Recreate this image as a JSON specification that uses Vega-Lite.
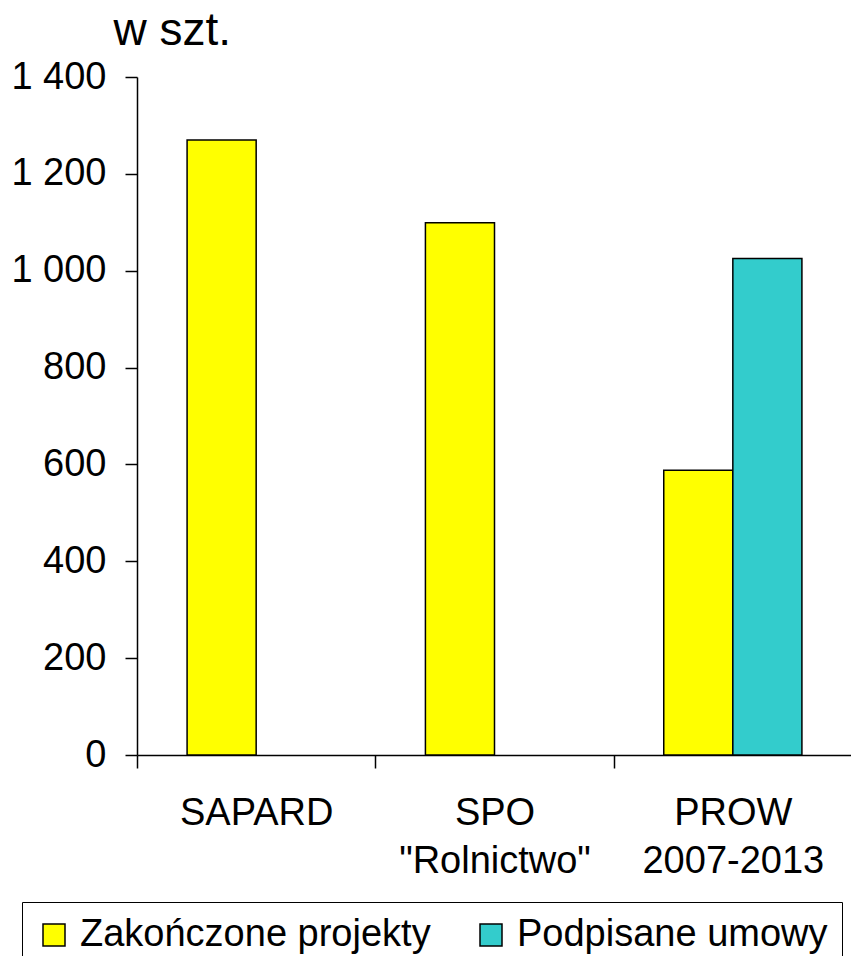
{
  "$schema": "https://vega.github.io/schema/vega-lite/v6.json",
  "autosize": {"type": "none"},
  "padding": {"left": 137, "top": 77, "right": 0, "bottom": 201},
  "width": 715,
  "height": 678,
  "background": "white",
  "config": {
    "view": {"stroke": null},
    "font": "Liberation Sans",
    "axis": {"labelFont": "Liberation Sans", "titleFont": "Liberation Sans", "labelColor": "black", "titleColor": "black", "domainColor": "black", "tickColor": "black", "domainWidth": 1.5, "tickWidth": 1.5, "grid": false},
    "legend": {"labelFont": "Liberation Sans"}
  },
  "data": {
    "values": [
      {"program": "SAPARD", "seria": "Zakończone projekty", "wartosc": 1270},
      {"program": "SPO \"Rolnictwo\"", "seria": "Zakończone projekty", "wartosc": 1099},
      {"program": "PROW 2007-2013", "seria": "Zakończone projekty", "wartosc": 588},
      {"program": "PROW 2007-2013", "seria": "Podpisane umowy", "wartosc": 1025}
    ]
  },
  "mark": {"type": "bar", "stroke": "black", "strokeWidth": 1.5},
  "encoding": {
    "x": {
      "field": "program",
      "type": "nominal",
      "sort": ["SAPARD", "SPO \"Rolnictwo\"", "PROW 2007-2013"],
      "scale": {"paddingInner": 0, "paddingOuter": 0},
      "axis": {
        "title": null,
        "labelAngle": 0,
        "labelFontSize": 38,
        "labelExpr": "split(datum.label, ' ')",
        "labelLineHeight": 48,
        "labelBaseline": "top",
        "labelPadding": 26,
        "labelLimit": 0,
        "tickSize": 13,
        "tickBand": "extent",
        "labelAlign": "center"
      }
    },
    "xOffset": {
      "field": "seria",
      "type": "nominal",
      "sort": ["Zakończone projekty", "Podpisane umowy"],
      "scale": {"paddingInner": 0, "paddingOuter": 0.725}
    },
    "y": {
      "field": "wartosc",
      "type": "quantitative",
      "scale": {"domain": [0, 1400], "nice": false},
      "axis": {
        "values": [0, 200, 400, 600, 800, 1000, 1200, 1400],
        "labelExpr": "replace(format(datum.value, ','), ',', ' ')",
        "labelFontSize": 38,
        "labelPadding": 19,
        "tickSize": 12,
        "title": "w szt.",
        "titleFontSize": 46,
        "titleFontWeight": "normal",
        "titleAngle": 0,
        "titleAlign": "left",
        "titleBaseline": "alphabetic",
        "titleX": -24,
        "titleY": -33
      }
    },
    "color": {
      "field": "seria",
      "type": "nominal",
      "sort": ["Zakończone projekty", "Podpisane umowy"],
      "scale": {"domain": ["Zakończone projekty", "Podpisane umowy"], "range": ["#FFFF00", "#33CCCC"]},
      "legend": {
        "title": null,
        "orient": "none",
        "direction": "horizontal",
        "legendX": -115,
        "legendY": 825,
        "strokeColor": "black",
        "padding": 14,
        "labelFontSize": 38,
        "labelColor": "black",
        "symbolType": "square",
        "symbolSize": 484,
        "symbolStrokeColor": "black",
        "symbolStrokeWidth": 1.5,
        "symbolOffset": -1,
        "labelOffset": 7,
        "columnPadding": 42,
        "labelLimit": 0
      }
    }
  }
}
